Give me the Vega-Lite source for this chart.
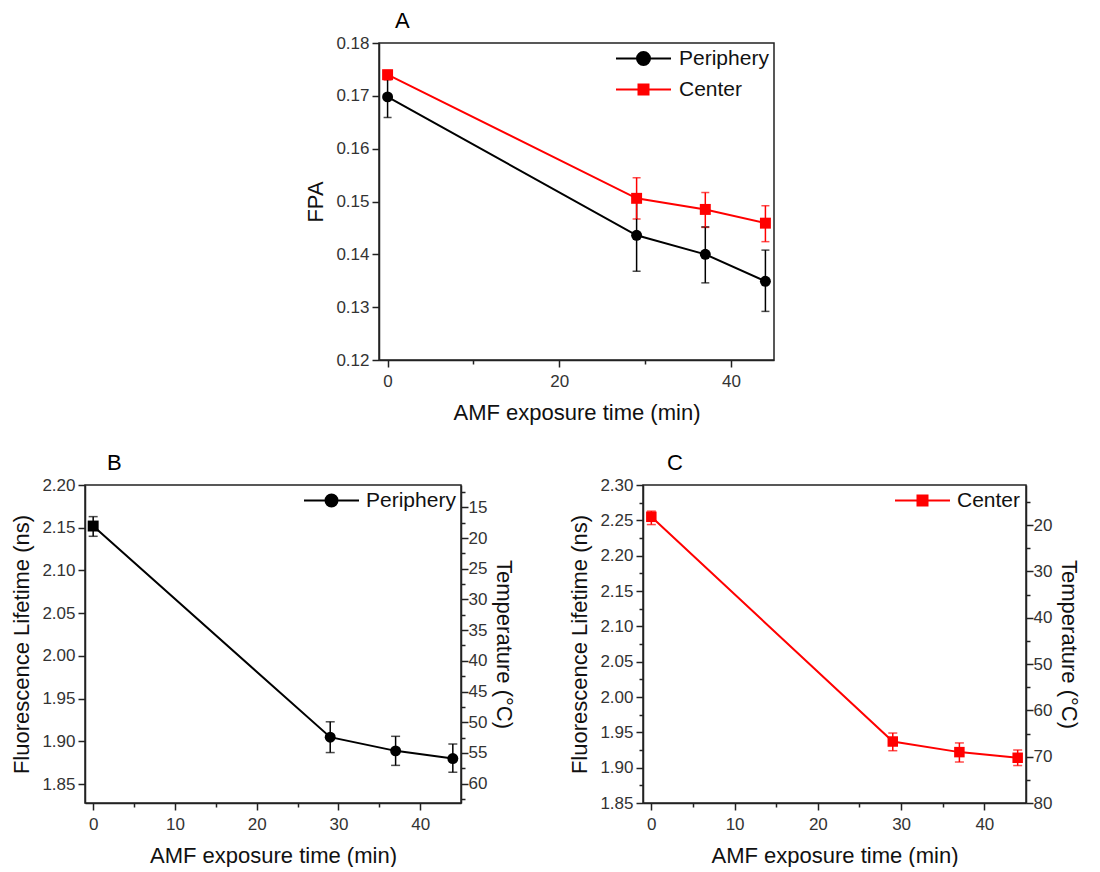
{
  "$schema": "https://vega.github.io/schema/vega-lite/v6.json",
  "background": "white",
  "padding": {"left": 10, "top": 9, "right": 0, "bottom": 0},
  "datasets": {
    "fpa": [
      {"time": 0, "series": "Periphery", "fpa": 0.1698, "lo": 0.1659, "hi": 0.1734},
      {"time": 29, "series": "Periphery", "fpa": 0.1436, "lo": 0.1368, "hi": 0.1504},
      {"time": 37, "series": "Periphery", "fpa": 0.1400, "lo": 0.1346, "hi": 0.1452},
      {"time": 44, "series": "Periphery", "fpa": 0.1349, "lo": 0.1292, "hi": 0.1408},
      {"time": 0, "series": "Center", "fpa": 0.1740, "lo": 0.1730, "hi": 0.1748},
      {"time": 29, "series": "Center", "fpa": 0.1506, "lo": 0.1467, "hi": 0.1545},
      {"time": 37, "series": "Center", "fpa": 0.1485, "lo": 0.1451, "hi": 0.1517},
      {"time": 44, "series": "Center", "fpa": 0.1459, "lo": 0.1424, "hi": 0.1492}
    ],
    "periphery": [
      {"time": 0, "series": "Periphery", "lifetime": 2.152, "lo": 2.140, "hi": 2.163, "temperature": 18.1},
      {"time": 29, "series": "Periphery", "lifetime": 1.905, "lo": 1.887, "hi": 1.923, "temperature": 52.5},
      {"time": 37, "series": "Periphery", "lifetime": 1.889, "lo": 1.872, "hi": 1.906, "temperature": 54.7},
      {"time": 44, "series": "Periphery", "lifetime": 1.880, "lo": 1.864, "hi": 1.897, "temperature": 55.9}
    ],
    "center": [
      {"time": 0, "series": "Center", "lifetime": 2.255, "lo": 2.244, "hi": 2.263, "temperature": 18.3},
      {"time": 29, "series": "Center", "lifetime": 1.937, "lo": 1.924, "hi": 1.949, "temperature": 67.0},
      {"time": 37, "series": "Center", "lifetime": 1.922, "lo": 1.908, "hi": 1.935, "temperature": 69.2},
      {"time": 44, "series": "Center", "lifetime": 1.914, "lo": 1.903, "hi": 1.925, "temperature": 70.4}
    ]
  },
  "spacing": 27,
  "resolve": {"scale": {"color": "independent", "shape": "independent"}, "legend": {"color": "independent"}},
  "vconcat": [
    {
      "bounds": "flush",
      "spacing": 16,
      "resolve": {"scale": {"color": "independent", "shape": "independent"}, "legend": {"color": "independent"}},
      "hconcat": [
        {
          "width": 278, "height": 10,
          "view": {"stroke": null},
          "data": {"values": []},
          "mark": {"type": "point"}
        },
        {
          "width": 395, "height": 317,
          "title": {"text": "A", "anchor": "start", "frame": "group", "dx": 16, "offset": 1, "fontSize": 22, "fontWeight": "normal", "font": "Liberation Sans", "color": "#000"},
          "data": {"name": "fpa"},
          "encoding": {
            "x": {"field": "time", "type": "quantitative",
              "scale": {"domain": [-1, 45], "nice": false, "zero": false},
              "axis": {"title": "AMF exposure time (min)", "values": [0, 10, 20, 30, 40],
                "labelExpr": "datum.value % 20 === 0 ? datum.label : ''",
                "tickSize": {"condition": {"test": "datum.value % 20 !== 0", "value": 4}, "value": 7}}},
            "color": {"field": "series", "type": "nominal", "scale": {"domain": ["Periphery", "Center"], "range": ["#000000", "#ff0000"]},
              "legend": {"orient": "top-right", "offset": 5, "padding": 0, "title": null, "labelFontSize": 21, "labelColor": "#111",
                "symbolSize": 100, "symbolStrokeWidth": 2, "labelOffset": 25, "rowPadding": 9,
                "symbolType": "M-5.5,0H-1.3M1.3,0H5.5M-1.3,0A1.3,1.3,0,1,0,1.3,0A1.3,1.3,0,1,0,-1.3,0Z",
                "encode": {"symbols": {"update": {
                  "shape": {"signal": "datum.value === 'Center' ? 'M-5.5,0H-1M1,0H5.5M-1,-1H1V1H-1Z' : 'M-5.5,0H-1.3M1.3,0H5.5M-1.3,0A1.3,1.3,0,1,0,1.3,0A1.3,1.3,0,1,0,-1.3,0Z'"},
                  "fill": {"signal": "datum.value === 'Center' ? '#ff0000' : '#000000'"},
                  "stroke": {"signal": "datum.value === 'Center' ? '#ff0000' : '#000000'"},
                  "opacity": {"value": 1}
                }}}}}
          },
          "layer": [
            {
              "mark": {"type": "errorbar", "ticks": true, "size": 8, "thickness": 1.5},
              "encoding": {
                "y": {"field": "lo", "type": "quantitative", "scale": {"domain": [0.12, 0.18], "nice": false, "zero": false}, "title": "FPA"},
                "y2": {"field": "hi"}
              }
            },
            {
              "mark": {"type": "line", "strokeWidth": 2},
              "encoding": {
                "y": {"field": "fpa", "type": "quantitative", "scale": {"domain": [0.12, 0.18], "nice": false, "zero": false},
                  "axis": {"title": "FPA", "format": ".2f", "labelOverlap": false,
                    "values": [0.12, 0.125, 0.13, 0.135, 0.14, 0.145, 0.15, 0.155, 0.16, 0.165, 0.17, 0.175, 0.18],
                    "labelExpr": "abs(round(datum.value*1000) % 10) < 1 ? datum.label : ''",
                    "labelFontSize": {"condition": {"test": "abs(round(datum.value*1000) % 10) >= 1", "value": 1}, "value": 17},
                    "tickSize": {"condition": {"test": "abs(round(datum.value*1000) % 10) >= 1", "value": 4}, "value": 7}}}
              }
            },
            {
              "mark": {"type": "point", "filled": true, "size": 120, "opacity": 1},
              "encoding": {
                "y": {"field": "fpa", "type": "quantitative", "scale": {"domain": [0.12, 0.18], "nice": false, "zero": false}, "title": "FPA"},
                "shape": {"condition": {"test": "datum.series === 'Center'", "value": "square"}, "value": "circle"}
              }
            }
          ]
        }
      ]
    },
    {
      "bounds": "flush",
      "spacing": 182,
      "resolve": {"scale": {"color": "independent", "shape": "independent"}, "legend": {"color": "independent"}},
      "hconcat": [
        {
          "width": 376, "height": 318,
          "title": {"text": "B", "anchor": "start", "frame": "group", "dx": 22, "offset": 1, "fontSize": 22, "fontWeight": "normal", "font": "Liberation Sans", "color": "#000"},
          "data": {"name": "periphery"},
          "encoding": {
            "x": {"field": "time", "type": "quantitative",
              "scale": {"domain": [-1, 45], "nice": false, "zero": false},
              "axis": {"title": "AMF exposure time (min)", "values": [0, 5, 10, 15, 20, 25, 30, 35, 40],
                "labelExpr": "datum.value % 10 === 0 ? datum.label : ''",
                "tickSize": {"condition": {"test": "datum.value % 10 !== 0", "value": 4}, "value": 7}}}
          },
          "layer": [
            {
              "encoding": {
                "color": {"field": "series", "type": "nominal", "scale": {"domain": ["Periphery"], "range": ["#000000"]},
                  "legend": {"orient": "top-right", "offset": 5, "padding": 0, "title": null, "labelFontSize": 21, "labelColor": "#111",
                    "symbolSize": 100, "symbolStrokeWidth": 2, "labelOffset": 24,
                    "symbolType": "M-5.5,0H-1.2M1.2,0H5.5M-1.2,0A1.2,1.2,0,1,0,1.2,0A1.2,1.2,0,1,0,-1.2,0Z",
                    "encode": {"symbols": {"update": {"fill": {"value": "#000000"}, "stroke": {"value": "#000000"}, "opacity": {"value": 1}}}}}}
              },
              "layer": [
                {
                  "mark": {"type": "errorbar", "ticks": true, "size": 9, "thickness": 1.5},
                  "encoding": {
                    "y": {"field": "lo", "type": "quantitative", "scale": {"domain": [1.828, 2.2], "nice": false, "zero": false}, "title": "Fluorescence Lifetime (ns)"},
                    "y2": {"field": "hi"}
                  }
                },
                {
                  "mark": {"type": "line", "strokeWidth": 2},
                  "encoding": {
                    "y": {"field": "lifetime", "type": "quantitative", "scale": {"domain": [1.828, 2.2], "nice": false, "zero": false},
                      "axis": {"title": "Fluorescence Lifetime (ns)", "format": ".2f", "labelOverlap": false,
                        "values": [1.85, 1.875, 1.9, 1.925, 1.95, 1.975, 2.0, 2.025, 2.05, 2.075, 2.1, 2.125, 2.15, 2.175, 2.2],
                        "labelExpr": "abs(round(datum.value*1000) % 50) < 1 ? datum.label : ''",
                        "labelFontSize": {"condition": {"test": "abs(round(datum.value*1000) % 50) >= 1", "value": 1}, "value": 17},
                        "tickSize": {"condition": {"test": "abs(round(datum.value*1000) % 50) >= 1", "value": 4}, "value": 7}}}
                  }
                },
                {
                  "mark": {"type": "point", "filled": true, "size": 120, "opacity": 1},
                  "encoding": {
                    "y": {"field": "lifetime", "type": "quantitative", "scale": {"domain": [1.828, 2.2], "nice": false, "zero": false}, "title": "Fluorescence Lifetime (ns)"},
                    "shape": {"condition": {"test": "datum.time === 0", "value": "square"}, "value": "circle"}
                  }
                }
              ]
            },
            {
              "mark": {"type": "point", "opacity": 0},
              "encoding": {
                "y": {"field": "temperature", "type": "quantitative",
                  "scale": {"domain": [11.36, 63.16], "reverse": true, "nice": false, "zero": false},
                  "axis": {"orient": "right", "title": "Temperature (°C)", "labelOverlap": false,
                    "labelPadding": 0, "titlePadding": 5,
                    "values": [12.5, 15, 17.5, 20, 22.5, 25, 27.5, 30, 32.5, 35, 37.5, 40, 42.5, 45, 47.5, 50, 52.5, 55, 57.5, 60, 62.5],
                    "labelExpr": "datum.value % 5 === 0 ? datum.label : ''",
                    "labelFontSize": {"condition": {"test": "datum.value % 5 !== 0", "value": 1}, "value": 17},
                    "tickSize": {"condition": {"test": "datum.value % 5 !== 0", "value": 4}, "value": 7}}}
              }
            }
          ],
          "resolve": {"scale": {"y": "independent"}}
        },
        {
          "width": 383, "height": 318,
          "title": {"text": "C", "anchor": "start", "frame": "group", "dx": 24, "offset": 1, "fontSize": 22, "fontWeight": "normal", "font": "Liberation Sans", "color": "#000"},
          "data": {"name": "center"},
          "encoding": {
            "x": {"field": "time", "type": "quantitative",
              "scale": {"domain": [-1, 45], "nice": false, "zero": false},
              "axis": {"title": "AMF exposure time (min)", "values": [0, 5, 10, 15, 20, 25, 30, 35, 40],
                "labelExpr": "datum.value % 10 === 0 ? datum.label : ''",
                "tickSize": {"condition": {"test": "datum.value % 10 !== 0", "value": 4}, "value": 7}}}
          },
          "layer": [
            {
              "encoding": {
                "color": {"field": "series", "type": "nominal", "scale": {"domain": ["Center"], "range": ["#ff0000"]},
                  "legend": {"orient": "top-right", "offset": 5, "padding": 0, "title": null, "labelFontSize": 21, "labelColor": "#111",
                    "symbolSize": 100, "symbolStrokeWidth": 2, "labelOffset": 24,
                    "symbolType": "M-5.5,0H-1M1,0H5.5M-1,-1H1V1H-1Z",
                    "encode": {"symbols": {"update": {"fill": {"value": "#ff0000"}, "stroke": {"value": "#ff0000"}, "opacity": {"value": 1}}}}}}
              },
              "layer": [
                {
                  "mark": {"type": "errorbar", "ticks": true, "size": 9, "thickness": 1.5},
                  "encoding": {
                    "y": {"field": "lo", "type": "quantitative", "scale": {"domain": [1.85, 2.3], "nice": false, "zero": false}, "axis": null},
                    "y2": {"field": "hi"}
                  }
                },
                {
                  "mark": {"type": "line", "strokeWidth": 2},
                  "encoding": {
                    "y": {"field": "lifetime", "type": "quantitative", "scale": {"domain": [1.85, 2.3], "nice": false, "zero": false},
                      "axis": {"orient": "left", "title": "Fluorescence Lifetime (ns)", "format": ".2f", "labelOverlap": false,
                        "values": [1.85, 1.9, 1.95, 2.0, 2.05, 2.1, 2.15, 2.2, 2.25, 2.3], "tickSize": 7}}
                  }
                },
                {
                  "mark": {"type": "point", "filled": true, "size": 110, "opacity": 1, "shape": "square"},
                  "encoding": {
                    "y": {"field": "lifetime", "type": "quantitative", "scale": {"domain": [1.85, 2.3], "nice": false, "zero": false}, "axis": null}
                  }
                },
                {
                  "mark": {"type": "point", "opacity": 0},
                  "encoding": {
                    "y": {"field": "lifetime", "type": "quantitative", "scale": {"domain": [1.85, 2.3], "nice": false, "zero": false},
                      "axis": {"orient": "left", "title": null, "labels": false, "domain": false, "tickSize": 4,
                        "values": [1.875, 1.925, 1.975, 2.025, 2.075, 2.125, 2.175, 2.225, 2.275]}}
                  }
                }
              ],
              "resolve": {"axis": {"y": "independent"}}
            },
            {
              "mark": {"type": "point", "opacity": 0},
              "encoding": {
                "y": {"field": "temperature", "type": "quantitative",
                  "scale": {"domain": [11.36, 80], "reverse": true, "nice": false, "zero": false},
                  "axis": {"orient": "right", "title": "Temperature (°C)", "labelOverlap": false,
                    "labelPadding": 0, "titlePadding": 5,
                    "values": [15, 20, 25, 30, 35, 40, 45, 50, 55, 60, 65, 70, 75, 80],
                    "labelExpr": "datum.value % 10 === 0 ? datum.label : ''",
                    "labelFontSize": {"condition": {"test": "datum.value % 10 !== 0", "value": 1}, "value": 17},
                    "tickSize": {"condition": {"test": "datum.value % 10 !== 0", "value": 4}, "value": 7}}}
              }
            }
          ],
          "resolve": {"scale": {"y": "independent"}}
        }
      ]
    }
  ],
  "config": {
    "font": "Liberation Sans",
    "view": {"stroke": "#222222", "strokeWidth": 1.5},
    "axis": {
      "labelFont": "Liberation Sans", "labelFontSize": 17, "labelColor": "#333333",
      "titleFont": "Liberation Sans", "titleFontSize": 22, "titleFontWeight": "normal", "titleColor": "#111111",
      "domainColor": "#222222", "domainWidth": 1.5, "tickColor": "#222222", "tickWidth": 1.5,
      "grid": false, "labelOverlap": false, "labelFlush": false, "labelPadding": 3, "titlePadding": 8
    },
    "axisX": {"labelPadding": 6, "titlePadding": 13},
    "legend": {"labelFont": "Liberation Sans"}
  }
}
